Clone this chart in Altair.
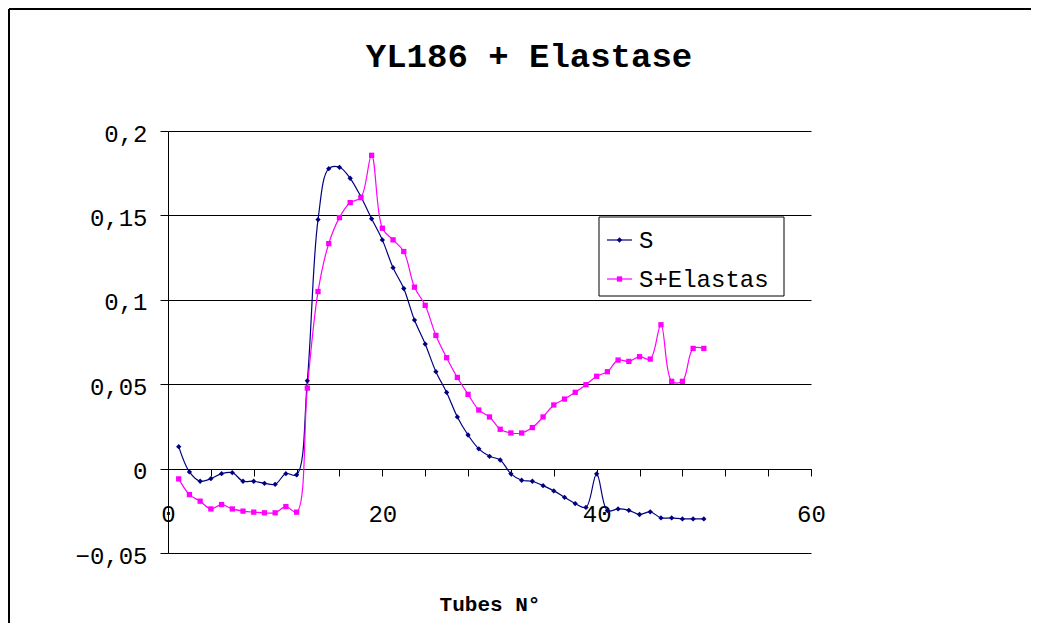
import altair as alt
import pandas as pd

tubes = list(range(1, 51))
s_values = [0.013, -0.002, -0.0075, -0.006, -0.003, -0.0024, -0.0075, -0.0075, -0.0087, -0.0093,
            -0.003, -0.0037, 0.052, 0.1475, 0.1777, 0.1785, 0.172, 0.161, 0.148, 0.1355,
            0.119, 0.1067, 0.088, 0.0738, 0.0574, 0.0451, 0.0306, 0.0199, 0.0117, 0.0073,
            0.0051, -0.0031, -0.0069, -0.0075, -0.0101, -0.0132, -0.017, -0.0207, -0.023, -0.0031,
            -0.0249, -0.0239, -0.0247, -0.0272, -0.0256, -0.0292, -0.0292, -0.0298, -0.0298, -0.0298]
se_values = [-0.0061, -0.0154, -0.0193, -0.0239, -0.0213, -0.0239, -0.0252, -0.0258, -0.0262, -0.0262,
             -0.0225, -0.0258, 0.0477, 0.1049, 0.1333, 0.1487, 0.1576, 0.1605, 0.1856, 0.1424,
             0.1355, 0.1286, 0.1075, 0.0967, 0.0789, 0.0657, 0.054, 0.044, 0.0347, 0.0306,
             0.0233, 0.0211, 0.0211, 0.0243, 0.0306, 0.0377, 0.0412, 0.0452, 0.0497, 0.0547,
             0.0574, 0.0643, 0.0635, 0.0663, 0.0649, 0.0852, 0.0517, 0.0517, 0.0712, 0.0712]
series_names = ["S", "S+Elastas"]
series_colors = ["#000080", "#FF00FF"]
series_shapes = ["diamond", "square"]
y_ticks = [-0.05, 0, 0.05, 0.1, 0.15, 0.2]
x_ticks = list(range(0, 61, 4))
chart_title = "YL186 + Elastase"

df = pd.DataFrame({
    "tube": tubes + tubes,
    "value": s_values + se_values,
    "series": [series_names[0]] * len(tubes) + [series_names[1]] * len(tubes),
})

FONT = "Liberation Mono"
W, H = 643, 422

color_scale = alt.Scale(domain=series_names, range=series_colors)
shape_scale = alt.Scale(domain=series_names, range=series_shapes)

x_enc = alt.X(
    "tube:Q",
    scale=alt.Scale(domain=[0, 60], nice=False, zero=False),
    axis=alt.Axis(
        values=x_ticks,
        labelExpr="datum.value % 20 == 0 ? datum.label : ''",
        offset=-84,
        grid=False,
        domainColor="black",
        tickColor="black",
        tickSize=7,
        labelFont=FONT,
        labelFontSize=24,
        labelColor="black",
        labelBaseline="middle",
        labelPadding=38,
        labelFlush=False,
        labelOverlap=False,
        title="Tubes N°",
        titleFont=FONT,
        titleFontSize=21,
        titleFontWeight="bold",
        titleColor="black",
        titleBaseline="middle",
        titleY=135,
    ),
)
y_enc = alt.Y(
    "value:Q",
    scale=alt.Scale(domain=[-0.05, 0.2], nice=False, zero=False),
    axis=alt.Axis(
        values=y_ticks,
        labelExpr="replace(format(datum.value, '.2~f'), '.', ',')",
        grid=True,
        gridColor="black",
        gridOpacity=1,
        gridWidth=1,
        domainColor="black",
        tickColor="black",
        tickSize=8,
        labelFont=FONT,
        labelFontSize=24,
        labelColor="black",
        labelPadding=13,
        labelOffset=3,
        title=None,
    ),
)

base = alt.Chart(df)

one = pd.DataFrame({"a": [0]})
border_top = alt.Chart(one).mark_rule(color="black", strokeWidth=2).encode(
    x=alt.value(-159), x2=alt.value(863), y=alt.value(-122))
border_left = alt.Chart(one).mark_rule(color="black", strokeWidth=2).encode(
    x=alt.value(-159), y=alt.value(-122), y2=alt.value(700))

title_mark = alt.Chart(pd.DataFrame({"t": [chart_title]})).mark_text(
    font=FONT, fontSize=34, fontWeight="bold", color="black", align="center", baseline="middle"
).encode(x=alt.value(361), y=alt.value(-74), text="t:N")

lines = base.mark_line(interpolate="catmull-rom", strokeWidth=1.2).encode(
    x=x_enc, y=y_enc,
    color=alt.Color("series:N", scale=color_scale, legend=None),
    detail="series:N",
)
points = base.mark_point(filled=True, size=28, opacity=1).encode(
    x="tube:Q", y="value:Q",
    color=alt.Color("series:N", scale=color_scale, legend=None),
    shape=alt.Shape("series:N", scale=shape_scale, legend=None),
)

legend_box = alt.Chart(one).mark_rect(
    fill="white", stroke="black", strokeWidth=1
).encode(x=alt.value(431), x2=alt.value(616), y=alt.value(86), y2=alt.value(165))

legend_layers = []
legend_ys = [109, 148]
for name, col, shp, ly in zip(series_names, series_colors, series_shapes, legend_ys):
    ldf = pd.DataFrame({"series": [name]})
    legend_layers.append(
        alt.Chart(ldf).mark_rule(color=col, strokeWidth=1.2).encode(
            x=alt.value(439), x2=alt.value(464), y=alt.value(ly))
    )
    legend_layers.append(
        alt.Chart(ldf).mark_point(filled=True, size=28, opacity=1, color=col, shape=shp).encode(
            x=alt.value(451.5), y=alt.value(ly))
    )
    legend_layers.append(
        alt.Chart(ldf).mark_text(font=FONT, fontSize=24, color="black", align="left",
                                 baseline="middle").encode(
            x=alt.value(471), y=alt.value(ly + 1), text="series:N")
    )

chart = alt.layer(border_top, border_left, title_mark, lines, points, legend_box,
                  *legend_layers).properties(
    width=W,
    height=H,
    autosize=alt.AutoSizeParams(type="none"),
    padding={"left": 160, "top": 123, "right": 220, "bottom": 70},
    background="white",
).configure_view(strokeWidth=0)

chart.save("out.html", embed_options={"renderer": "svg", "actions": False})
